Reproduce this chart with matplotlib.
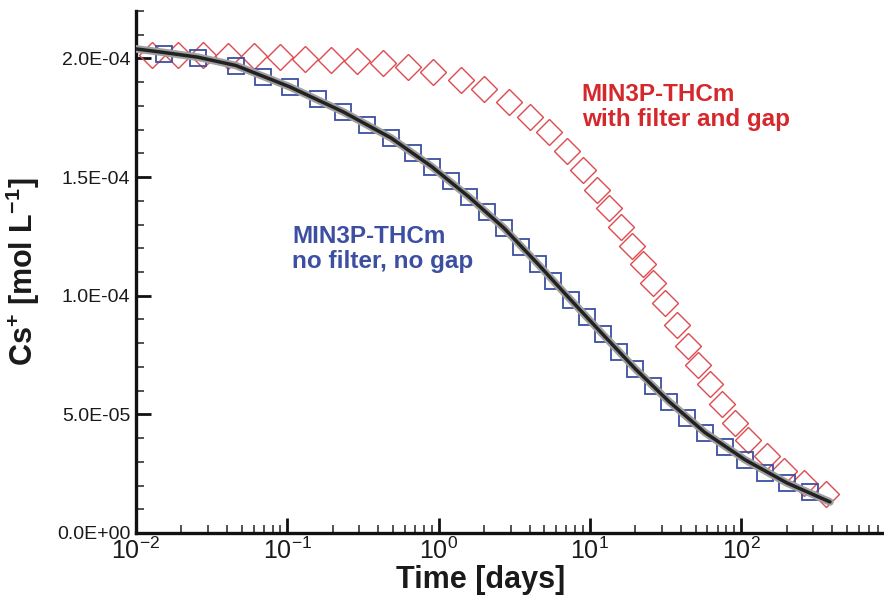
import matplotlib
matplotlib.use("Agg")
import matplotlib.pyplot as plt
from matplotlib import ticker

plt.rcParams["font.family"] = ["Liberation Sans", "DejaVu Sans"]
plt.rcParams["mathtext.fontset"] = "custom"
plt.rcParams["mathtext.rm"] = "Liberation Sans"
plt.rcParams["mathtext.bf"] = "Liberation Sans:bold"
plt.rcParams["mathtext.default"] = "regular"
plt.rcParams["axes.unicode_minus"] = False

# analytical solution (black curve)
line_t = [0.01, 0.0153, 0.0257, 0.0458, 0.104, 0.234, 0.485, 0.906, 1.59, 2.71,
          4.55, 7.52, 12.2, 19.9, 33.4, 57.8, 106, 201, 387]
line_c = [2.040e-4, 2.025e-4, 2.005e-4, 1.970e-4, 1.880e-4, 1.775e-4, 1.665e-4,
          1.543e-4, 1.416e-4, 1.285e-4, 1.133e-4, 0.981e-4, 0.837e-4, 0.693e-4,
          0.554e-4, 0.423e-4, 0.309e-4, 0.211e-4, 0.131e-4]

# MIN3P-THCm, no filter, no gap (blue squares)
nogap_t = [0.0153, 0.0257, 0.0458, 0.0692, 0.104, 0.160, 0.234, 0.336, 0.485,
           0.678, 0.906, 1.21, 1.59, 2.09, 2.71, 3.51, 4.55, 5.71, 7.52, 9.59,
           12.2, 15.6, 19.9, 26.2, 33.4, 44.0, 57.8, 78.3, 106, 144, 201, 286]
nogap_c = [2.020e-4, 2.003e-4, 1.970e-4, 1.923e-4, 1.881e-4, 1.830e-4, 1.775e-4,
           1.720e-4, 1.665e-4, 1.602e-4, 1.543e-4, 1.484e-4, 1.416e-4, 1.352e-4,
           1.285e-4, 1.205e-4, 1.133e-4, 1.061e-4, 0.981e-4, 0.909e-4, 0.837e-4,
           0.761e-4, 0.693e-4, 0.621e-4, 0.554e-4, 0.486e-4, 0.423e-4, 0.363e-4,
           0.309e-4, 0.254e-4, 0.211e-4, 0.173e-4]

# MIN3P-THCm, with filter and gap (red diamonds)
gap_t = [0.01277, 0.01897, 0.0277, 0.0406, 0.0603, 0.0895, 0.131, 0.195, 0.289,
         0.430, 0.628, 0.920, 1.41, 2.00, 2.92, 4.03, 5.38, 7.08, 9.02, 11.2,
         13.4, 16.1, 19.0, 22.5, 26.2, 31.5, 37.8, 44.6, 52.0, 62.4, 74.9, 91.2,
         111, 149, 192, 261, 365]
gap_c = [2.016e-4, 2.016e-4, 2.016e-4, 2.012e-4, 2.012e-4, 2.008e-4, 1.999e-4,
         1.995e-4, 1.991e-4, 1.982e-4, 1.965e-4, 1.944e-4, 1.910e-4, 1.872e-4,
         1.817e-4, 1.754e-4, 1.691e-4, 1.610e-4, 1.530e-4, 1.445e-4, 1.369e-4,
         1.289e-4, 1.209e-4, 1.133e-4, 1.052e-4, 0.968e-4, 0.875e-4, 0.786e-4,
         0.706e-4, 0.626e-4, 0.545e-4, 0.465e-4, 0.393e-4, 0.325e-4, 0.262e-4,
         0.211e-4, 0.165e-4]

blue = "#3d4fa1"
red = "#d4282c"

fig = plt.figure(figsize=(8.84, 5.98), dpi=100)
ax = fig.add_axes([0.1538, 0.1087, 0.8462, 0.873])

ax.plot(gap_t, gap_c, linestyle="none", marker="D", ms=13.5, mfc="none",
        mec="#de4a4e", mew=1.0, zorder=2)
ax.plot(nogap_t, nogap_c, linestyle="none", marker="s", ms=12, mfc="none",
        mec=blue, mew=1.3, zorder=2)
# blurry look of the scanned curve
ax.plot(line_t, line_c, color="#a0a0a0", lw=5.5, solid_capstyle="round", zorder=3)
ax.plot(line_t, line_c, color="#222222", lw=2.5, solid_capstyle="round", zorder=4)

ax.set_xscale("log")
ax.set_xlim(1e-2, 10 ** 2.945)
ax.set_ylim(0, 2.2e-4)

ax.yaxis.set_major_locator(ticker.MultipleLocator(5e-5))
ax.yaxis.set_minor_locator(ticker.MultipleLocator(1e-5))
ax.yaxis.set_major_formatter(ticker.FuncFormatter(lambda v, _: f"{v:.1E}"))
ax.xaxis.set_major_locator(ticker.LogLocator(base=10, numticks=10))
ax.xaxis.set_minor_locator(ticker.LogLocator(base=10, subs=range(2, 10), numticks=20))
ax.xaxis.set_minor_formatter(ticker.NullFormatter())

for side in ["top", "right"]:
    ax.spines[side].set_visible(False)
for side in ["left", "bottom"]:
    ax.spines[side].set_linewidth(2.4)
    ax.spines[side].set_color("#111111")

ax.tick_params(axis="both", which="major", direction="in", length=11, width=2, color="#111111")
ax.tick_params(axis="both", which="minor", direction="in", length=6, width=1.2, color="#333333")
ax.tick_params(axis="y", labelsize=14, pad=4, labelcolor="#1a1a1a")
ax.tick_params(axis="x", labelsize=18, pad=3, labelcolor="#1a1a1a")

ax.set_xlabel("Time [days]", fontsize=22, fontweight="bold", color="#1a1a1a")
ax.xaxis.set_label_coords(0.461, -0.062)
ax.set_ylabel(r"Cs$^{\mathbf{+}}$ [mol L$^{\mathbf{-1}}$]", fontsize=22,
              fontweight="bold", color="#1a1a1a")
ax.yaxis.set_label_coords(-0.125, 0.5)

ax.text(0.596, 0.862, "MIN3P-THCm\nwith filter and gap", transform=ax.transAxes,
        color=red, fontsize=17.5, fontweight="bold", va="top", ha="left", linespacing=1.1)
ax.text(0.2086, 0.590, "MIN3P-THCm\nno filter, no gap", transform=ax.transAxes,
        color=blue, fontsize=17.5, fontweight="bold", va="top", ha="left", linespacing=1.1)

fig.savefig("out.png", dpi=100)
